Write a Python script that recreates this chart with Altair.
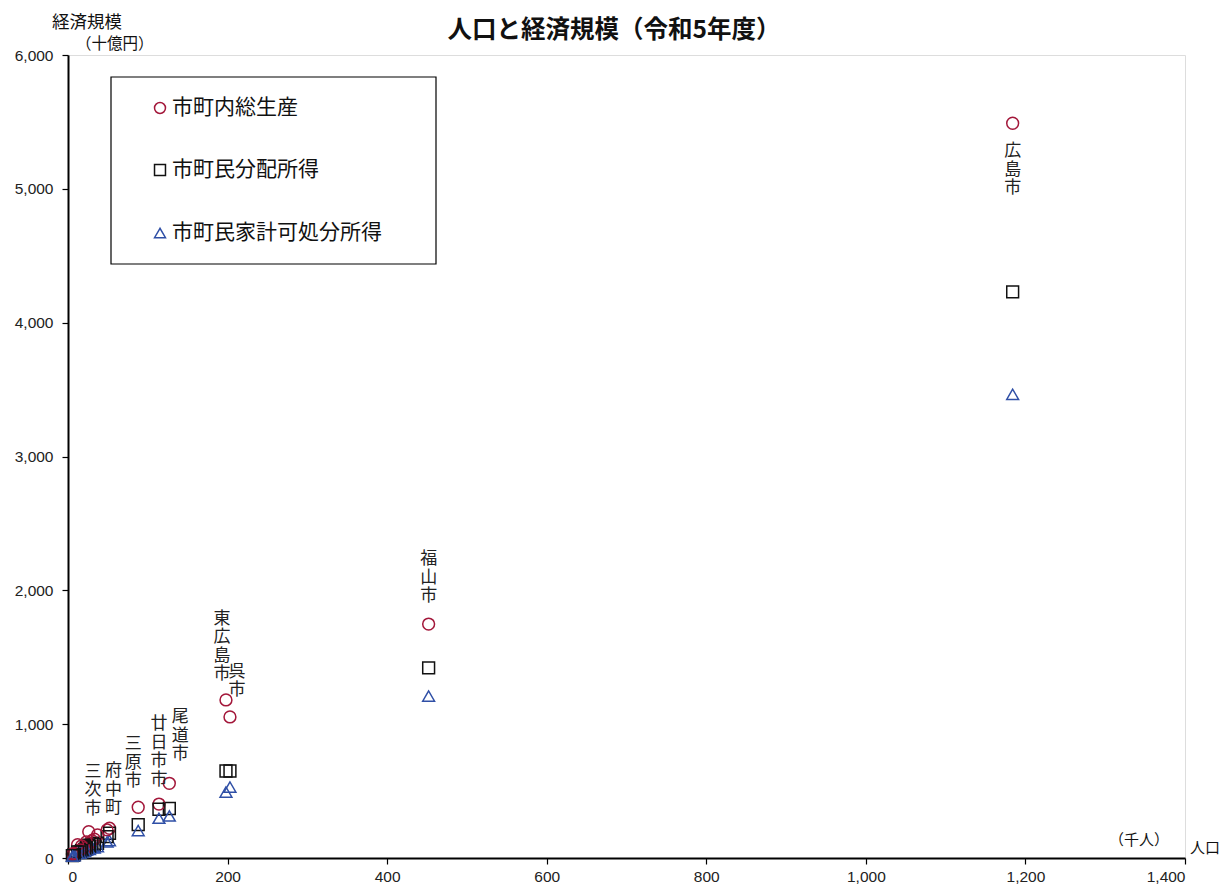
import altair as alt
import pandas as pd

# ---- data ----
municipalities = ["広島市", "福山市", "呉市", "東広島市", "尾道市", "廿日市市", "三原市",
                  "府中町", "三次市", "府中市", "大竹市", "竹原市", "庄原市", "安芸高田市",
                  "江田島市", "海田町", "熊野町", "坂町", "北広島町", "安芸太田町",
                  "大崎上島町", "世羅町", "神石高原町"]
population = [1184, 452, 203, 198, 127, 114, 88, 52, 49, 37, 26, 23, 33, 27,
              21, 30, 23, 12, 17, 5.5, 7, 15, 8]
gdp = [5490, 1748, 1054, 1181, 558, 403, 379, 222, 210, 172, 196, 120, 140, 110,
       70, 130, 60, 100, 90, 30, 30, 60, 35]
distributed_income = [4230, 1420, 650, 650, 370, 364, 250, 185, 160, 110, 95, 75, 100, 85,
                      65, 105, 75, 45, 55, 18, 22, 45, 25]
household_income = [3465, 1210, 530, 493, 314, 297, 205, 130, 120, 85, 70, 60, 75, 65,
                    50, 80, 60, 35, 42, 14, 18, 36, 20]

series_names = ["市町内総生産", "市町民分配所得", "市町民家計可処分所得"]
series_colors = ["#A3173A", "#111111", "#2F4FA6"]
series_shapes = ["circle", "square", "triangle-up"]

labeled = ["広島市", "福山市", "東広島市", "呉市", "尾道市", "廿日市市", "三原市", "府中町", "三次市"]
label_dx = [0, 0, -4, 7, 11, 0, -5, 4, -14]
label_dy = [20, -73, -89, -53, -74, -88, -71, -65, -66]

x_ticks = [0, 200, 400, 600, 800, 1000, 1200, 1400]
y_ticks = [0, 1000, 2000, 3000, 4000, 5000, 6000]

FONT = "Liberation Sans, Noto Sans CJK JP"
JFONT = "Noto Sans CJK JP"

rows = []
for name, p, a, b, c in zip(municipalities, population, gdp, distributed_income, household_income):
    for s, v in zip(series_names, [a, b, c]):
        rows.append({"市町": name, "人口": p, "系列": s, "値": v})
df = pd.DataFrame(rows)

W, H = 1117, 803

xscale = alt.Scale(domain=[0, 1400], nice=False, zero=True)
yscale = alt.Scale(domain=[0, 6000], nice=False, zero=True)

base = alt.Chart(df)

points = base.mark_point(filled=False, size=140, strokeWidth=1.5, opacity=1).encode(
    x=alt.X("人口:Q", scale=xscale,
            axis=alt.Axis(values=x_ticks, format=",.0f", title=None, grid=False,
                          domainColor="black", domainWidth=2, tickColor="black",
                          tickSize=6, tickWidth=1.2, labelPadding=5,
                          labelFont=FONT, labelFontSize=15.5, labelColor="#222")),
    y=alt.Y("値:Q", scale=yscale,
            axis=alt.Axis(values=y_ticks, format=",.0f", title=None, grid=False,
                          domainColor="black", domainWidth=2, tickColor="black",
                          tickSize=6, tickWidth=1.2, labelPadding=9,
                          labelFont=FONT, labelFontSize=15.5, labelColor="#222")),
    color=alt.Color("系列:N", scale=alt.Scale(domain=series_names, range=series_colors), legend=None),
    shape=alt.Shape("系列:N", scale=alt.Scale(domain=series_names, range=series_shapes), legend=None),
    order=alt.Order("人口:Q", sort="descending"),
)

layers = []

# legend box
legend_box = alt.Chart(pd.DataFrame({"k": [0]})).mark_rect(
    fill="white", stroke="black", strokeWidth=1.2
).encode(x=alt.value(43), x2=alt.value(368), y=alt.value(22), y2=alt.value(209))
layers.append(legend_box)
layers.append(points)

# legend entries
legend_y = [53, 115, 178]
for s, col, shp, ly in zip(series_names, series_colors, series_shapes, legend_y):
    ldf = pd.DataFrame({"系列": [s]})
    layers.append(alt.Chart(ldf).mark_point(filled=False, size=120, strokeWidth=1.5,
                                            shape=shp, color=col, opacity=1)
                  .encode(x=alt.value(92), y=alt.value(ly)))
    layers.append(alt.Chart(ldf).mark_text(align="left", baseline="middle", font=JFONT,
                                           fontSize=21, color="#111")
                  .encode(x=alt.value(104), y=alt.value(ly), text="系列:N"))

# vertical municipality labels
for name, dx, dy in zip(labeled, label_dx, label_dy):
    idx = municipalities.index(name)
    ldf = pd.DataFrame({"人口": [population[idx]], "値": [gdp[idx]],
                        "label": ["\n".join(list(name))]})
    layers.append(alt.Chart(ldf).mark_text(align="center", baseline="top", font=JFONT,
                                           fontSize=17, lineHeight=18.5, lineBreak="\n",
                                           color="#222", dx=dx, dy=dy)
                  .encode(x=alt.X("人口:Q", scale=xscale), y=alt.Y("値:Q", scale=yscale),
                          text="label:N"))

# titles and axis captions
def caption(text, x, y, size, align="left", weight="normal", font=JFONT):
    return alt.Chart(pd.DataFrame({"t": [text]})).mark_text(
        align=align, baseline="middle", font=font, fontSize=size, fontWeight=weight, color="#111"
    ).encode(x=alt.value(x), y=alt.value(y), text="t:N")

layers.append(caption("人口と経済規模（令和5年度）", 546, -24, 24.5, align="center", weight="bold"))
layers.append(caption("経済規模", -16, -32, 17.5))
layers.append(caption("（十億円）", 8, -11, 15.5))
layers.append(caption("（千人）", 1071, 785, 15, align="center"))
layers.append(caption("人口", 1122, 793, 15))

chart = alt.layer(*layers).properties(
    width=W, height=H,
    autosize=alt.AutoSizeParams(type="none"),
    padding={"left": 60, "top": 47, "right": 38, "bottom": 30},
).configure_view(stroke="#333", strokeWidth=1.5).configure(background="white")

chart.save("out.html", embed_options={"renderer": "svg", "actions": False})
